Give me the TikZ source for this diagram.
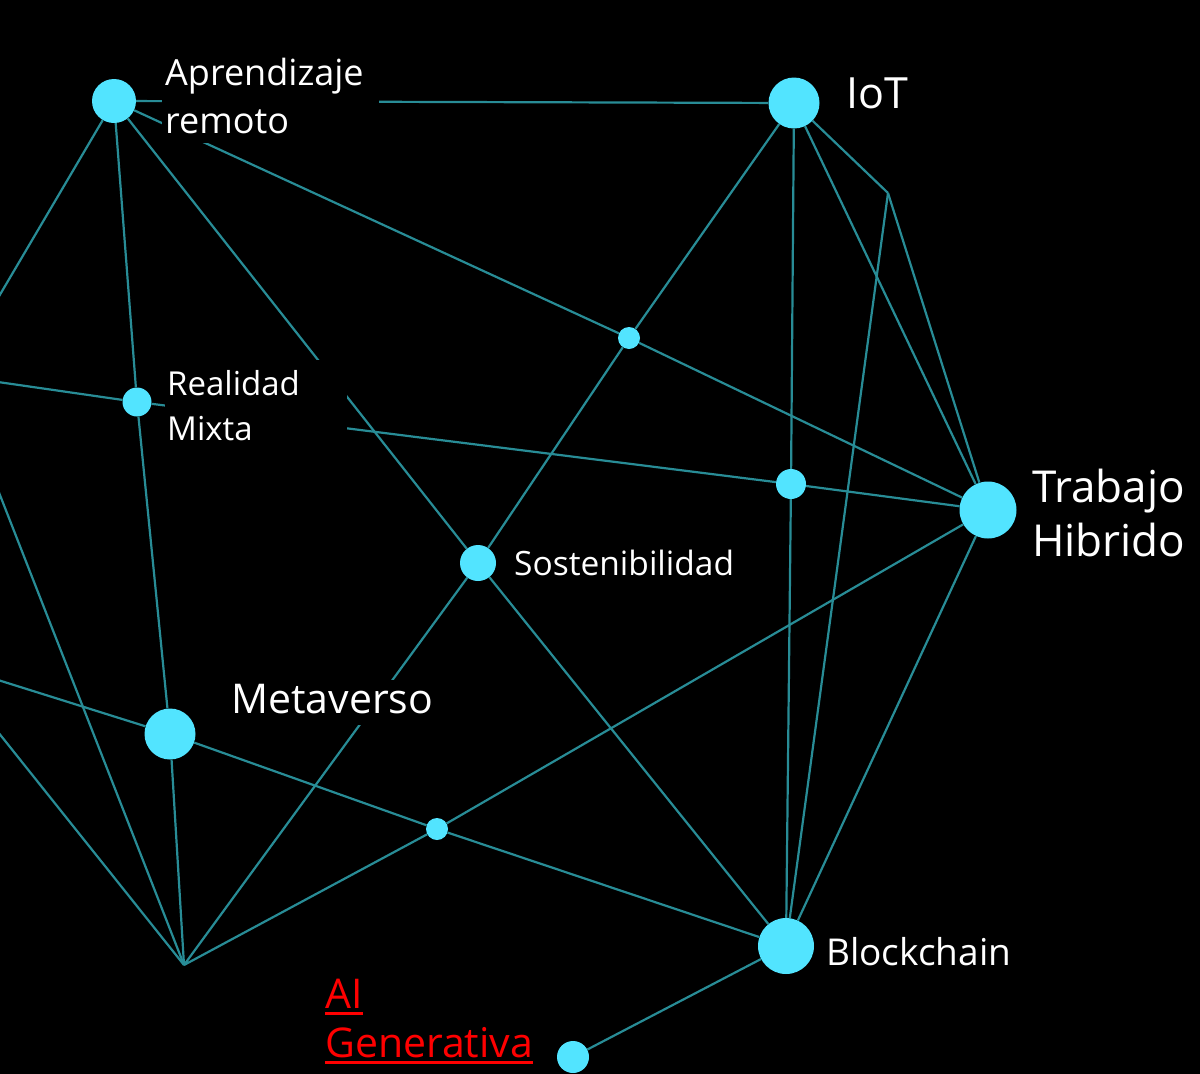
\documentclass[tikz,border=0pt]{standalone}
\usepackage{fontspec}
\setmainfont{Open Sans}
\definecolor{linec}{RGB}{40,140,150}
\definecolor{dotc}{RGB}{82,228,255}
\definecolor{aired}{RGB}{255,0,0}
\newcommand\twolines[2]{\vtop{\hbox{#1}\hbox{#2}}}
\newcommand\redul[1]{\setbox0=\hbox{#1}\rlap{\rule[-7pt]{\wd0}{3pt}}\box0}
\tikzset{
  conn/.style={draw=linec, line width=2.2pt},
  dot/.style={circle, fill=dotc, draw=none, inner sep=0pt, minimum size=#1},
  lbl/.style={text=white, inner sep=0pt, anchor=base west},
  masklbl/.style={lbl, fill=black},
}
\begin{document}
\begin{tikzpicture}[x=1pt,y=-1pt]
\useasboundingbox (0,0) rectangle (1200,1074);
\clip (0,0) rectangle (1200,1074);
\fill[black] (0,0) rectangle (1200,1074);

% points
\node[dot=44] (ar) at (114,101) {};
\node[dot=51] (iot) at (794,103) {};
\node[dot=29] (rm) at (137,402) {};
\node[dot=22] (s2) at (629,338) {};
\node[dot=30] (s3) at (791,484) {};
\node[dot=57] (th) at (988,510) {};
\node[dot=36] (sost) at (478,563) {};
\node[dot=51] (meta) at (170,734) {};
\node[dot=22] (s4) at (437,829) {};
\node[dot=56] (bc) at (786,946) {};
\node[dot=32] (aig) at (573,1057) {};
\coordinate (b0) at (184,965);
\coordinate (v) at (888,193);
\coordinate (l1) at (-2,298);
\coordinate (l2) at (-2,382);
\coordinate (l3) at (-2,490);
\coordinate (l4) at (-2,680);
\coordinate (l5) at (-2,732);

% connectors
\begin{scope}[conn]
\draw (ar) -- (iot);
\draw (ar) -- (s2);
\draw (s2) -- (th);
\draw (ar) -- (rm);
\draw (rm) -- (meta);
\draw (meta) -- (b0);
\draw (ar) -- (sost);
\draw (sost) -- (bc);
\draw (ar) -- (l1);
\draw (l2) -- (rm);
\draw (rm) -- (s3);
\draw (s3) -- (th);
\draw (l3) -- (b0);
\draw (l4) -- (meta);
\draw (meta) -- (s4);
\draw (s4) -- (bc);
\draw (l5) -- (b0);
\draw (b0) -- (sost);
\draw (sost) -- (s2);
\draw (s2) -- (iot);
\draw (b0) -- (s4);
\draw (s4) -- (th);
\draw (iot) -- (s3);
\draw (s3) -- (bc);
\draw (iot) -- (th);
\draw (iot) -- (v);
\draw (v) -- (th);
\draw (v) -- (bc);
\draw (th) -- (bc);
\draw (bc) -- (aig);
\end{scope}

% labels
\node[masklbl, inner xsep=3pt] (lar) at (162,85)
  {\fontsize{36}{48}\selectfont\twolines{Aprendizaje\hspace{12pt}}{remoto\rule[-10pt]{0pt}{10pt}}};
\node[lbl] (liot) at (846,108) {\fontsize{43}{50}\selectfont IoT};
\node[masklbl, inner xsep=2pt] (lrm) at (165,395)
  {\fontsize{33}{45}\selectfont\twolines{\rule{0pt}{35pt}Realidad\hspace{45pt}}{Mixta\rule[-12pt]{0pt}{12pt}}};
\node[lbl] (lth) at (1032,502) {\fontsize{44}{54}\selectfont\twolines{Trabajo}{Hibrido}};
\node[lbl] (lsost) at (514,575) {\fontsize{33.5}{42}\selectfont Sostenibilidad};
\node[masklbl, inner xsep=6pt] (lmeta) at (225,713)
  {\fontsize{41}{49}\selectfont\rule[-12pt]{0pt}{45pt}Metaverso};
\node[lbl] (lbc) at (826,965) {\fontsize{37}{44}\selectfont Blockchain};
\node[lbl, text=aired] (laig) at (325,1008)
  {\fontsize{41}{49}\selectfont\twolines{\redul{AI}}{\redul{Generativa}}};
\end{tikzpicture}
\end{document}
